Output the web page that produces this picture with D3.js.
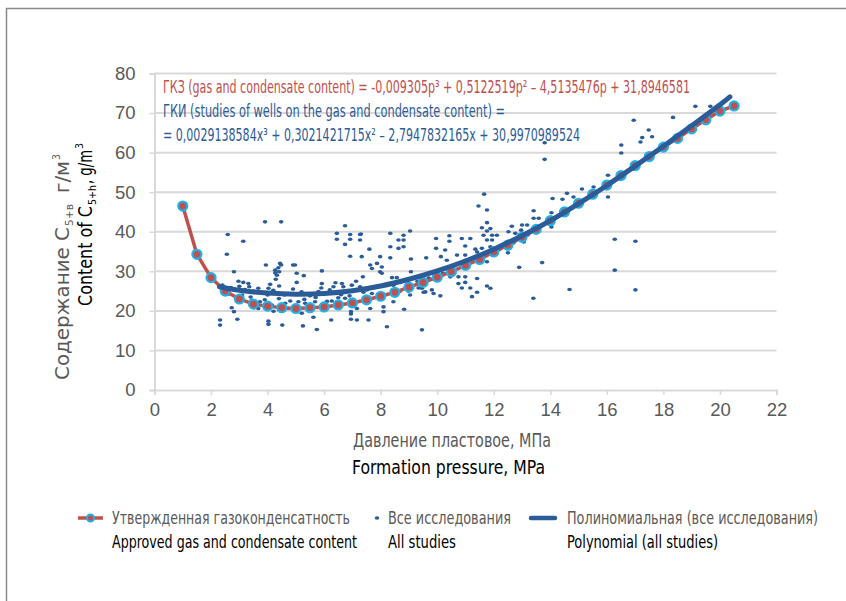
<!DOCTYPE html>
<html>
<head>
<meta charset="utf-8">
<script src="https://cdn.jsdelivr.net/npm/d3@7"></script>
<style>
  body { margin: 0; background: #fff; }
  svg { display: block; font-family: "DejaVu Sans Condensed", "DejaVu Sans", sans-serif; font-stretch: condensed; }
</style>
</head>
<body>
<div id="chart"></div>
<script>
// Data
const xTicks = [0, 2, 4, 6, 8, 10, 12, 14, 16, 18, 20, 22];
const yTicks = [0, 10, 20, 30, 40, 50, 60, 70, 80];

// approved gas and condensate content (every 0.5 MPa)
const approvedP = [1, 1.5, 2, 2.5, 3, 3.5, 4, 4.5, 5, 5.5, 6, 6.5, 7, 7.5, 8, 8.5, 9, 9.5, 10, 10.5,
  11, 11.5, 12, 12.5, 13, 13.5, 14, 14.5, 15, 15.5, 16, 16.5, 17, 17.5, 18, 18.5, 19, 19.5, 20, 20.5];
const approvedC = [46.5, 34.3, 28.4, 25.0, 23.0, 21.7, 21.2, 20.8, 20.6, 20.8, 21.0, 21.5, 22.0, 22.8, 23.7, 24.7, 26.0, 27.2, 28.5, 29.9,
  31.5, 33.0, 34.9, 36.6, 38.6, 40.6, 42.8, 45.0, 47.2, 49.5, 51.8, 54.2, 56.7, 59.0, 61.4, 63.6, 66.0, 68.3, 70.5, 71.8];

// polynomial trend (all studies)
const trendP = [2.3, 3, 4, 5, 6, 7, 8, 9, 10, 11, 12, 13, 14, 15, 16, 17, 18, 19, 20, 20.35];
const trendC = [26.1, 25.2, 24.5, 24.2, 24.4, 25.1, 26.3, 28.0, 30.1, 32.6, 35.6, 39.0, 42.8, 47.1, 51.7, 56.6, 61.6, 66.8, 72.1, 74.1];

// all studies [pressure, content]
const studies = [
  [3.91,42.5],[4.48,42.5],[2.59,39.3],[3.14,37.6],[2.56,34.3],[3.94,31.6],[4.48,31.6],[4.38,30.9],[4.90,31.6],[4.97,31.6],
  [4.27,29.6],[4.33,29.0],[4.29,28.0],[4.41,29.9],[5.03,29.5],[5.28,28.9],[5.92,30.1],[5.03,27.2],[5.92,26.9],[2.81,29.9],
  [2.97,27.5],[3.14,27.2],[3.32,26.9],[3.35,26.1],[3.67,25.7],[4.03,25.7],[4.09,26.7],[4.41,26.3],[6.33,26.1],[6.63,26.9],
  [6.68,26.1],[6.98,26.5],[2.73,20.8],[2.81,19.8],[2.93,17.9],[2.32,17.7],[2.32,16.4],[4.03,17.4],[4.03,16.6],[4.52,16.4],
  [5.25,16.2],[5.74,15.3],[6.25,17.7],[6.95,17.9],[6.95,19.8],[6.95,19.2],[5.62,18.4],[3.67,20.6],[4.21,19.9],[4.74,20.6],
  [5.21,19.4],[5.50,19.9],[3.44,22.7],[3.73,22.3],[4.15,21.5],[4.62,21.9],[5.09,22.3],[5.33,21.9],[5.68,22.3],[6.04,21.9],
  [6.27,22.5],[6.74,23.2],[6.74,41.5],[6.45,39.6],[6.92,39.3],[6.45,38.1],[6.92,38.1],[6.74,36.8],[6.92,33.8],[4.27,30.3],
  [4.44,32.0],[7.30,39.4],
  [2.4,26.5],[2.5,25.6],[2.7,25.9],[3.0,26.2],[3.2,25.4],[3.5,25.0],[3.8,24.6],[4.2,25.2],[4.6,24.0],[5.2,24.8],
  [5.5,23.8],[5.8,24.9],[6.2,25.3],[6.6,24.1],[3.4,23.5],[3.9,22.8],[4.4,23.1],[4.8,22.5],[5.3,22.9],[5.7,23.4],
  [6.1,22.4],[6.5,23.3],[6.9,23.8],[2.6,24.2],[3.1,24.0],[4.0,24.0],[4.9,25.5],[5.9,25.8],[6.4,27.1],
  [11.46,46.5],[11.76,45.5],[11.76,42.3],[11.58,41.0],[11.88,40.8],[11.76,40.2],[11.64,39.1],[11.94,39.1],[12.11,39.1],[11.76,37.9],
  [11.94,37.9],[9.04,40.2],[8.34,39.6],[7.27,39.3],[7.27,37.9],[8.81,39.1],[8.81,37.9],[8.63,37.9],[9.96,38.3],[10.43,39.0],
  [10.43,37.6],[10.87,38.3],[11.17,38.3],[8.34,36.2],[8.63,35.8],[8.81,36.2],[7.60,35.6],[9.96,35.8],[10.28,35.4],[10.99,36.4],
  [11.35,35.6],[11.58,35.8],[11.88,36.2],[7.33,33.7],[7.98,33.7],[8.34,33.4],[9.07,33.1],[9.61,33.4],[10.13,33.7],[10.34,32.8],
  [10.70,34.1],[10.99,34.1],[10.99,32.8],[11.41,34.9],[11.58,33.7],[11.76,32.4],[7.63,31.6],[7.87,32.0],[8.04,31.1],[7.69,30.7],
  [7.98,29.9],[8.04,29.5],[9.07,29.9],[7.37,28.6],[7.13,27.5],[7.27,26.1],[7.51,25.3],[8.40,28.4],[8.57,28.4],[8.45,26.5],
  [8.69,27.2],[9.28,26.7],[9.46,25.7],[9.58,24.8],[9.87,24.4],[10.11,23.8],[9.81,25.3],[10.46,28.6],[10.75,28.6],[10.99,28.6],
  [10.75,26.9],[10.99,27.2],[10.87,25.8],[11.17,25.8],[11.41,28.2],[11.76,26.3],[11.88,25.7],[11.23,23.6],[11.41,24.7],[8.45,22.3],
  [8.10,21.0],[8.10,19.8],[7.63,20.6],[7.16,20.6],[7.16,17.7],[7.57,17.7],[8.83,20.4],[8.22,16.0],[9.46,15.2],[7.39,24.7],
  [7.69,24.4],[7.92,23.6],[8.45,24.7],[8.69,25.0],[8.98,25.0],[9.04,24.0],[9.52,24.7],[9.34,25.8],[11.66,49.5],
  [9.3,27.5],[9.7,28.3],[10.2,29.5],[10.6,30.5],[11.1,31.9],[11.5,33.5],[11.8,34.5],
  [16.95,68.2],[13.80,62.5],[13.80,58.3],[16.51,61.9],[16.51,59.9],[16.04,54.3],[15.12,50.8],[15.53,51.3],[14.59,49.7],[14.82,48.8],
  [14.43,48.2],[14.08,48.4],[16.04,48.8],[14.04,44.8],[13.41,45.3],[13.41,43.4],[13.59,43.4],[12.64,41.4],[13.00,41.7],[13.18,41.7],
  [12.97,40.4],[12.76,39.6],[12.52,40.0],[14.04,41.2],[13.06,37.4],[12.94,38.3],[12.50,34.7],[12.29,36.2],[12.90,31.0],[13.71,32.2],
  [16.28,38.1],[16.28,30.3],[14.68,25.4],[13.40,23.2],[17.01,25.3],[17.01,37.6],
  [12.2,35.5],[12.4,36.8],[12.7,37.2],[13.2,39.2],[13.5,40.3],
  [19.13,71.7],[19.66,71.7],[18.34,68.9],[17.48,65.7],[17.60,64.0],[17.25,63.8],[17.19,62.7]
];

const eqRed = "ГКЗ (gas and condensate content) = -0,009305p³ + 0,5122519p² – 4,5135476p + 31,8946581";
const eqBlue1 = "ГКИ (studies of wells on the gas and condensate content) =";
const eqBlue2 = "= 0,0029138584x³ + 0,3021421715x² – 2,7947832165x + 30,9970989524";

const RED = "#c0504d", CYAN = "#1cb2ea", BLUE = "#2b5c98", GRID = "#d9d9d9", GRAY = "#595959";

const width = 846, height = 601;
const svg = d3.select("#chart").append("svg").attr("width", width).attr("height", height);

// outer frame
svg.append("rect").attr("x", 6.5).attr("y", 8.5).attr("width", 900).attr("height", 700)
  .attr("fill", "none").attr("stroke", "#8a8a8a").attr("stroke-width", 1.5);

const x = d3.scaleLinear().domain([0, 22]).range([154.5, 776.5]);
const y = d3.scaleLinear().domain([0, 80]).range([390, 73.5]);

// grid
svg.append("g").selectAll("line").data(yTicks.filter(d => d > 0)).join("line")
  .attr("x1", x(0)).attr("x2", x(22)).attr("y1", d => y(d)).attr("y2", d => y(d))
  .attr("stroke", GRID).attr("stroke-width", 2);

// axes
const xAxis = svg.append("g").attr("transform", `translate(0,${y(0)})`)
  .call(d3.axisBottom(x).tickValues(xTicks).tickSize(5).tickPadding(8).tickFormat(d3.format("d")));
const yAxis = svg.append("g").attr("transform", `translate(${x(0)},0)`)
  .call(d3.axisLeft(y).tickValues(yTicks).tickSize(5).tickPadding(14).tickFormat(d3.format("d")));
[xAxis, yAxis].forEach(g => {
  g.select(".domain").attr("stroke", GRID).attr("stroke-width", 2);
  g.selectAll(".tick line").attr("stroke", GRID).attr("stroke-width", 1.5);
  g.selectAll(".tick text").attr("fill", GRAY).attr("font-size", 18.5).attr("font-family", null);
});

// scatter
svg.append("g").selectAll("ellipse").data(studies).join("ellipse")
  .attr("cx", d => x(d[0])).attr("cy", d => y(d[1]))
  .attr("rx", 2.3).attr("ry", 1.8).attr("fill", BLUE);

// approved line
const approved = approvedP.map((p, i) => [p, approvedC[i]]);
const line = d3.line().x(d => x(d[0])).y(d => y(d[1]));
svg.append("path").datum(approved).attr("d", line)
  .attr("fill", "none").attr("stroke", RED).attr("stroke-width", 3.5);
svg.append("g").selectAll("circle").data(approved).join("circle")
  .attr("cx", d => x(d[0])).attr("cy", d => y(d[1])).attr("r", 4.5)
  .attr("fill", RED).attr("stroke", CYAN).attr("stroke-width", 2.2);

// polynomial trend
const trend = trendP.map((p, i) => [p, trendC[i]]);
svg.append("path").datum(trend).attr("d", line.curve(d3.curveCatmullRom))
  .attr("fill", "none").attr("stroke", BLUE).attr("stroke-width", 5).attr("stroke-linecap", "round");

// text squeezed to the widths seen in the picture
function fitText(g, tx, ty, color, size, len, s) {
  return g.append("text").attr("x", tx).attr("y", ty).attr("fill", color).attr("font-size", size)
    .attr("textLength", len).attr("lengthAdjust", "spacingAndGlyphs").text(s);
}
fitText(svg, 163, 93, RED, 17, 527, eqRed);
fitText(svg, 163, 117, BLUE, 17, 342, eqBlue1);
fitText(svg, 163, 141, BLUE, 17, 417, eqBlue2);

// axis titles
fitText(svg, 353, 447, GRAY, 19.5, 198, "Давление пластовое, МПа");
fitText(svg, 352, 474, "#000", 19.5, 193, "Formation pressure, MPa");

// rotated y titles, each piece squeezed on its own
function yTitle(tx, start, color, size, parts) {
  const g = svg.append("g").attr("transform", `translate(${tx},${start}) rotate(-90)`);
  let pos = 0;
  parts.forEach(([s, kind, len, gap]) => {
    const small = kind === "sub" || kind === "sup";
    const dy = kind === "sub" ? 4 : kind === "sup" ? -9 : 0;
    pos += gap || 0;
    g.append("text").attr("x", pos).attr("y", dy).attr("fill", color)
      .attr("font-size", small ? size * 0.58 : size)
      .attr("textLength", len).attr("lengthAdjust", "spacingAndGlyphs").text(s);
    pos += len;
  });
}
yTitle(69, 380, GRAY, 19, [["Содержание C", "", 153], ["5+в", "sub", 22, 1], ["г/м", "", 32, 11], ["3", "sup", 6, 1]]);
yTitle(92, 306, "#000", 19, [["Content of C", "", 100], ["5+h", "sub", 20, 1], [", g/m", "", 34, 1], ["3", "sup", 6, 1]]);

// legend
const lg = svg.append("g");
lg.append("line").attr("x1", 78).attr("x2", 103).attr("y1", 518).attr("y2", 518)
  .attr("stroke", RED).attr("stroke-width", 3.5);
lg.append("circle").attr("cx", 90.5).attr("cy", 518).attr("r", 3.5)
  .attr("fill", RED).attr("stroke", CYAN).attr("stroke-width", 2);
lg.append("ellipse").attr("cx", 377).attr("cy", 518).attr("rx", 2.3).attr("ry", 1.8).attr("fill", BLUE);
lg.append("line").attr("x1", 531).attr("x2", 555).attr("y1", 518).attr("y2", 518)
  .attr("stroke", BLUE).attr("stroke-width", 4.5).attr("stroke-linecap", "round");

const legendText = [
  [112, 524, GRAY, "Утвержденная газоконденсатность", 238],
  [112, 548, "#000", "Approved gas and condensate content", 245],
  [388, 524, GRAY, "Все исследования", 123],
  [388, 548, "#000", "All studies", 68],
  [567, 524, GRAY, "Полиномиальная (все исследования)", 251],
  [567, 548, "#000", "Polynomial (all studies)", 151]
];
legendText.forEach(d => fitText(lg, d[0], d[1], d[2], 17, d[4], d[3]));
</script>
</body>
</html>
